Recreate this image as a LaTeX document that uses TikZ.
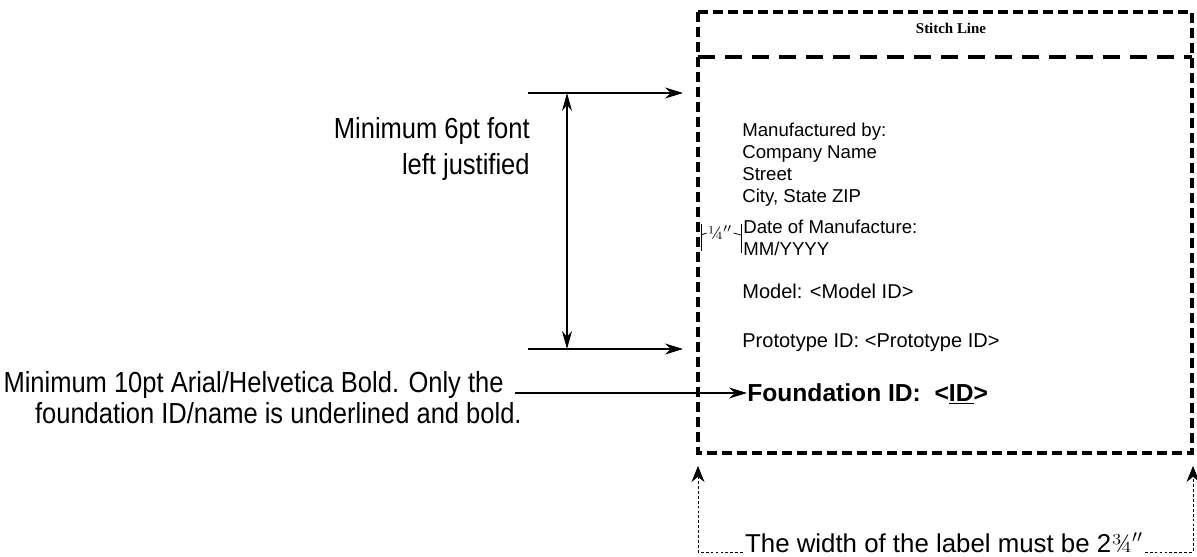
\documentclass[tikz,border=0pt]{standalone}
\usepackage{fontspec}
\setsansfont{Liberation Sans}
\newfontfamily\narrowsf[FakeStretch=0.88]{Liberation Sans}
\newfontfamily\stitchrm{Liberation Serif}
\usetikzlibrary{arrows.meta,positioning,calc}
\tikzset{
  note/.style={font=\narrowsf\fontsize{16.5}{20}\selectfont, align=right, inner sep=0pt},
  lab/.style={anchor=base west, font=\sffamily\fontsize{10.6}{12.6}\selectfont, align=left, inner sep=0pt},
  labb/.style={lab, font=\sffamily\fontsize{11.4}{13}\selectfont},
  fid/.style={anchor=base west, font=\sffamily\bfseries\fontsize{14}{16}\selectfont, inner sep=0pt},
  wnote/.style={font=\sffamily\fontsize{14.7}{17}\selectfont, inner sep=1pt},
  brd/.style={line width=2.3pt, dash pattern=on 0.2cm off 0.1cm},
  brdtop/.style={line width=2.8pt, dash pattern=on 0.34cm off 0.2cm},
  arr/.style={-{Stealth[length=0.36cm, width=0.22cm]}, line width=0.6pt},
  arr2/.style={{Stealth[length=0.36cm, width=0.2cm]}-{Stealth[length=0.36cm, width=0.2cm]}, line width=0.6pt},
  dim/.style={line width=0.45pt, dash pattern=on 1.6pt off 1.2pt, -{Stealth[length=0.32cm, width=0.26cm]}},
  tk/.style={line width=0.45pt},
}
\begin{document}
\begin{tikzpicture}[x=0.2mm, y=-0.2mm]
  \useasboundingbox (0,0) rectangle (1197,557);
  \clip (0,0) rectangle (1197,557);
  % label outline
  \draw[brd] (698,12) rectangle (1192,453);
  \draw[brdtop] (698,57) -- (1192,57);
  \node[font=\stitchrm\bfseries\fontsize{8.5}{10}\selectfont] (stitch) at (951,28) {Stitch Line};
  % label text (base = last line)
  \node[lab] (maker) at (742,203) {Manufactured by:\\Company Name\\Street\\City, State ZIP};
  \node[lab] (date) at (743,256) {Date of Manufacture:\\MM/YYYY};
  \node[labb] (model) at (742,299) {Model: <Model ID>};
  \node[labb] (proto) at (742,348) {Prototype ID: <Prototype ID>};
  \node[fid] (found) at (747,401) {Foundation ID:\ \ <\underline{ID}>};
  % quarter inch spacing mark
  \node[font=\rmfamily\fontsize{10.5}{11}\selectfont, inner sep=0.6pt] (qtr) at (720,233) {¼$''$};
  \draw[tk] (701,224) -- (701,251);
  \draw[tk] (741,224) -- (741,253);
  \draw[tk] (701,235) -- (qtr.west);
  \draw[tk] (qtr.east) -- (741,235);
  % left notes
  \node[note, anchor=east] (sixpt) at (530,149) {Minimum 6pt font\\left justified};
  \coordinate (hiA) at (528,93);
  \coordinate (hiB) at (683,93);
  \coordinate (loA) at (528,349);
  \coordinate (loB) at (683,349);
  \coordinate (vtop) at (567,93);
  \coordinate (vbot) at (567,349);
  \draw[arr] (hiA) -- (hiB);
  \draw[arr] (loA) -- (loB);
  \draw[arr2] (vtop) -- (vbot);
  \node[note, anchor=east, font=\narrowsf\fontsize{16.5}{17.5}\selectfont] (boldnote) at (522,398) {Minimum 10pt Arial/Helvetica Bold. Only the\kern0.36cm\\foundation ID/name is underlined and bold.};
  \coordinate (noteend) at (515,393);
  \draw[arr] (noteend) -- (noteend -| found.west);
  % width of the label
  \node[wnote, anchor=base west] (wnote) at (743,552) {The width of the label must be 2{\rmfamily ¾}$''$};
  \coordinate (wl) at (698,466);
  \coordinate (wr) at (1193,466);
  \draw[dim] (wnote.base west) -| (wl);
  \draw[dim] (wnote.base east) -| (wr);
\end{tikzpicture}
\end{document}
